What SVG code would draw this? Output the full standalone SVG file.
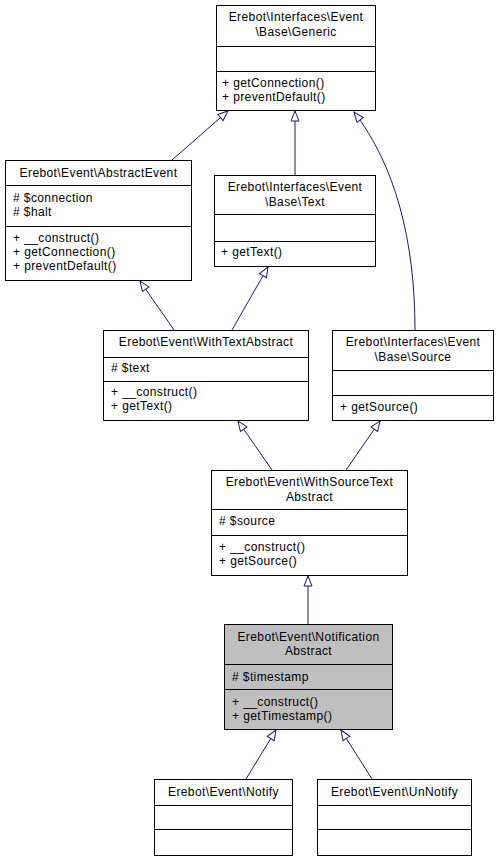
<svg xmlns="http://www.w3.org/2000/svg" width="498" height="861" viewBox="0 0 498 861">
<defs>
<style>
.box{fill:#fff;stroke:#000;stroke-width:1}
.hl{fill:#bfbfbf;stroke:#000;stroke-width:1}
.div{stroke:#000;stroke-width:1}
text{font-family:"Liberation Sans",Arial,sans-serif;font-size:12px;letter-spacing:0.4px;fill:#000}
.c{text-anchor:middle}
.edge{fill:none;stroke:#191970;stroke-width:1;marker-end:url(#tri)}
</style>
<marker id="tri" viewBox="0 0 12 10" refX="11" refY="5" markerWidth="12" markerHeight="10" markerUnits="userSpaceOnUse" orient="auto">
<path d="M1,1 L11,5 L1,9 Z" fill="#fff" stroke="#191970" stroke-width="1"/>
</marker>
</defs>
<rect width="498" height="861" fill="#fff"/>
<g id="connectors">
<path class="edge" d="M172,160 L228,111"/>
<path class="edge" d="M295,175 L295,111"/>
<path class="edge" d="M415,330 C415,240 395,165 354,112"/>
<path class="edge" d="M174,330 L140,281"/>
<path class="edge" d="M232,330 L268,267"/>
<path class="edge" d="M272,470 L238,421"/>
<path class="edge" d="M346,470 L380,421"/>
<path class="edge" d="M308,624 L308,576"/>
<path class="edge" d="M246,779 L276,730"/>
<path class="edge" d="M372,779 L341,730"/>
</g>
<g id="generic">
<rect class="box" x="216.5" y="5.5" width="159" height="105"/>
<line class="div" x1="216.5" y1="46.5" x2="375.5" y2="46.5"/>
<line class="div" x1="216.5" y1="71.5" x2="375.5" y2="71.5"/>
<text class="c" x="296" y="21">Erebot\Interfaces\Event</text>
<text class="c" x="296" y="35.5">\Base\Generic</text>
<text x="222" y="87">+ getConnection()</text>
<text x="222" y="101">+ preventDefault()</text>
</g>
<g id="abstractevent">
<rect class="box" x="5.5" y="160.5" width="186" height="120"/>
<line class="div" x1="5.5" y1="185.5" x2="191.5" y2="185.5"/>
<line class="div" x1="5.5" y1="226.5" x2="191.5" y2="226.5"/>
<text class="c" x="98.5" y="177">Erebot\Event\AbstractEvent</text>
<text x="13" y="202">#&#160;$connection</text>
<text x="13" y="216">#&#160;$halt</text>
<text x="13" y="242">+ __construct()</text>
<text x="13" y="256">+ getConnection()</text>
<text x="13" y="270">+ preventDefault()</text>
</g>
<g id="text">
<rect class="box" x="214.5" y="175.5" width="161" height="91"/>
<line class="div" x1="214.5" y1="214.5" x2="375.5" y2="214.5"/>
<line class="div" x1="214.5" y1="241.5" x2="375.5" y2="241.5"/>
<text class="c" x="295" y="191">Erebot\Interfaces\Event</text>
<text class="c" x="295" y="205.5">\Base\Text</text>
<text x="221" y="256">+ getText()</text>
</g>
<g id="withtextabstract">
<rect class="box" x="103.5" y="330.5" width="205" height="90"/>
<line class="div" x1="103.5" y1="357.5" x2="308.5" y2="357.5"/>
<line class="div" x1="103.5" y1="381.5" x2="308.5" y2="381.5"/>
<text class="c" x="206" y="346">Erebot\Event\WithTextAbstract</text>
<text x="111" y="372">#&#160;$text</text>
<text x="111" y="396">+ __construct()</text>
<text x="111" y="410">+ getText()</text>
</g>
<g id="source">
<rect class="box" x="332.5" y="330.5" width="161" height="90"/>
<line class="div" x1="332.5" y1="370.5" x2="493.5" y2="370.5"/>
<line class="div" x1="332.5" y1="395.5" x2="493.5" y2="395.5"/>
<text class="c" x="413" y="346">Erebot\Interfaces\Event</text>
<text class="c" x="413" y="360.5">\Base\Source</text>
<text x="340" y="411">+ getSource()</text>
</g>
<g id="withsourcetextabstract">
<rect class="box" x="211.5" y="470.5" width="196" height="105"/>
<line class="div" x1="211.5" y1="509.5" x2="407.5" y2="509.5"/>
<line class="div" x1="211.5" y1="535.5" x2="407.5" y2="535.5"/>
<text class="c" x="309.5" y="486">Erebot\Event\WithSourceText</text>
<text class="c" x="309.5" y="500.5">Abstract</text>
<text x="219" y="525">#&#160;$source</text>
<text x="219" y="551">+ __construct()</text>
<text x="219" y="565">+ getSource()</text>
</g>
<g id="notificationabstract">
<rect class="hl" x="224.5" y="624.5" width="168" height="105"/>
<line class="div" x1="224.5" y1="664.5" x2="392.5" y2="664.5"/>
<line class="div" x1="224.5" y1="689.5" x2="392.5" y2="689.5"/>
<text class="c" x="308.5" y="640.5">Erebot\Event\Notification</text>
<text class="c" x="308.5" y="655">Abstract</text>
<text x="232" y="681">#&#160;$timestamp</text>
<text x="232" y="706">+ __construct()</text>
<text x="232" y="720">+ getTimestamp()</text>
</g>
<g id="notify">
<rect class="box" x="154.5" y="779.5" width="138" height="76"/>
<line class="div" x1="154.5" y1="805.5" x2="292.5" y2="805.5"/>
<line class="div" x1="154.5" y1="829.5" x2="292.5" y2="829.5"/>
<text class="c" x="223.5" y="796">Erebot\Event\Notify</text>
</g>
<g id="unnotify">
<rect class="box" x="317.5" y="779.5" width="154" height="76"/>
<line class="div" x1="317.5" y1="805.5" x2="471.5" y2="805.5"/>
<line class="div" x1="317.5" y1="829.5" x2="471.5" y2="829.5"/>
<text class="c" x="394.5" y="796">Erebot\Event\UnNotify</text>
</g>
</svg>
